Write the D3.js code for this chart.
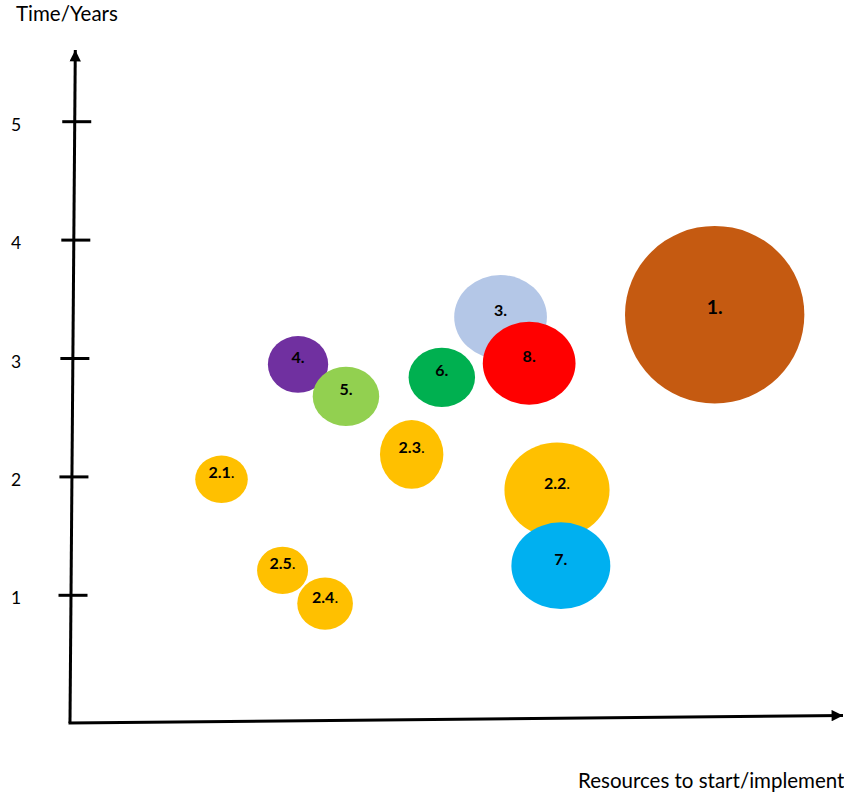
<!DOCTYPE html>
<html>
<head>
<meta charset="utf-8">
<script src="https://cdn.jsdelivr.net/npm/d3@7"></script>
<style>
  html, body { margin: 0; padding: 0; background: #fff; }
  svg { display: block; }
</style>
</head>
<body>
<svg id="chart"></svg>
<script>
// measures, one entry per bubble (drawn in this order)
const names = ["1", "2.1", "2.2", "2.3", "2.4", "2.5", "3", "4", "5", "6", "7", "8"];
const resources = [83.4, 19.6, 63.0, 44.2, 33.0, 27.5, 55.7, 29.5, 35.7, 48.1, 63.5, 59.4];
const years = [3.37, 1.98, 1.89, 2.19, 0.93, 1.21, 3.35, 2.95, 2.68, 2.84, 1.25, 2.96];
// half extent of each bubble along each axis
const spreadRes = [11.6, 3.4, 6.8, 4.1, 3.6, 3.3, 6.0, 3.9, 4.3, 4.3, 6.4, 6.0];
const spreadYears = [0.75, 0.2, 0.4, 0.29, 0.22, 0.2, 0.355, 0.24, 0.25, 0.25, 0.366, 0.35];
const yTicks = [1, 2, 3, 4, 5];
const groups = ["1", "2", "3", "4", "5", "6", "7", "8"];

const width = 844;
const height = 794;
const font = "Lato, 'Open Sans', sans-serif";

const origin = { x: 70, y: 723 };
const yTop = { x: 75.3, y: 50 };
const xEnd = { x: 843, y: 715.5 };

const x = d3.scaleLinear([0, 100], [origin.x, xEnd.x]);
const y = d3.scaleLinear([0, 5], [713.7, 121.7]);

const color = d3.scaleOrdinal(groups, [
  "#C55A11", "#FFC000", "#B4C7E7", "#7030A0",
  "#92D050", "#00B050", "#00B0F0", "#FF0000",
]);

const data = names.map((name, i) => ({
  name,
  res: resources[i],
  yrs: years[i],
  dr: spreadRes[i],
  dy: spreadYears[i],
}));

const svg = d3.select("#chart").attr("width", width).attr("height", height);

svg
  .append("defs")
  .append("marker")
  .attr("id", "arrow")
  .attr("viewBox", "0 0 10 10")
  .attr("refX", 10)
  .attr("refY", 5)
  .attr("markerWidth", 4.4)
  .attr("markerHeight", 3.8)
  .attr("markerUnits", "strokeWidth")
  .attr("orient", "auto")
  .append("path")
  .attr("d", "M0,0L10,5L0,10Z")
  .attr("fill", "#000");

// bubbles
const bubbles = svg.append("g");

bubbles
  .selectAll("ellipse")
  .data(data)
  .join("ellipse")
  .attr("cx", (d) => x(d.res))
  .attr("cy", (d) => y(d.yrs))
  .attr("rx", (d) => x(d.res + d.dr) - x(d.res))
  .attr("ry", (d) => y(d.yrs - d.dy) - y(d.yrs))
  .attr("fill", (d) => color(d.name[0]));

const labels = bubbles
  .selectAll("text")
  .data(data)
  .join("text")
  .attr("x", (d) => x(d.res))
  .attr("y", (d) => y(d.yrs) - 1)
  .attr("text-anchor", "middle")
  .style("font-family", font)
  .style("font-size", (d) => (d.name === "1" ? "19.5px" : "16px"))
  .style("fill", "#000");

labels
  .append("tspan")
  .style("font-weight", "bold")
  .text((d) => d.name);

labels
  .append("tspan")
  .style("font-weight", (d) => (d.name.includes(".") ? "normal" : "bold"))
  .text(".");

// axes
const axes = svg.append("g").attr("stroke", "#000").attr("stroke-width", 3);

axes
  .append("line")
  .attr("x1", origin.x)
  .attr("y1", origin.y)
  .attr("x2", yTop.x)
  .attr("y2", yTop.y)
  .attr("marker-end", "url(#arrow)");

axes
  .append("line")
  .attr("x1", origin.x - 1.5)
  .attr("y1", origin.y)
  .attr("x2", xEnd.x)
  .attr("y2", xEnd.y)
  .attr("marker-end", "url(#arrow)");

const axisXAt = d3.scaleLinear([origin.y, yTop.y], [origin.x, yTop.x]);

axes
  .selectAll(".tick")
  .data(yTicks)
  .join("line")
  .attr("class", "tick")
  .attr("x1", (d) => axisXAt(y(d)) - 12.5)
  .attr("x2", (d) => axisXAt(y(d)) + 16.5)
  .attr("y1", (d) => y(d))
  .attr("y2", (d) => y(d));

svg
  .append("g")
  .selectAll("text")
  .data(yTicks)
  .join("text")
  .attr("x", 16)
  .attr("y", (d) => y(d) + 3)
  .attr("dy", "0.35em")
  .attr("text-anchor", "middle")
  .style("font-family", font)
  .style("font-size", "17.5px")
  .style("fill", "#000")
  .text((d) => d);

svg
  .append("text")
  .attr("x", 16)
  .attr("y", 21)
  .style("font-family", font)
  .style("font-size", "20.5px")
  .style("fill", "#000")
  .text("Time/Years");

svg
  .append("text")
  .attr("x", 578)
  .attr("y", 788)
  .style("font-family", font)
  .style("font-size", "20.5px")
  .style("fill", "#000")
  .text("Resources to start/implement");
</script>
</body>
</html>
